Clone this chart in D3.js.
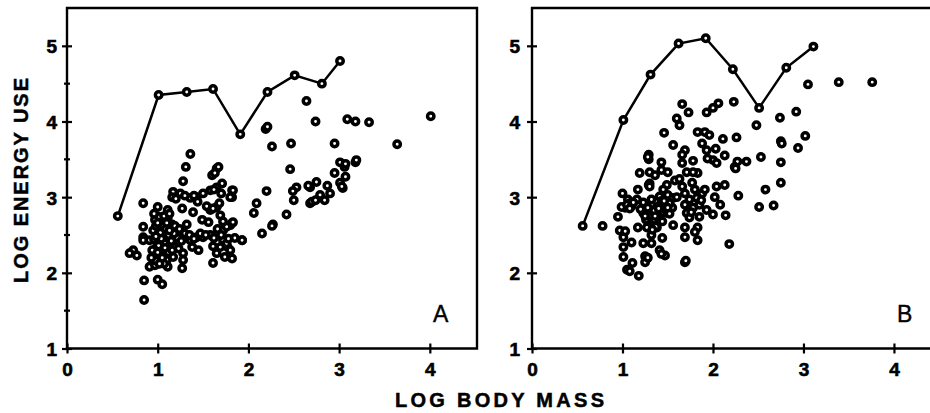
<!DOCTYPE html>
<html><head><meta charset="utf-8">
<script src="https://cdn.jsdelivr.net/npm/d3@7"></script>
<style>
html,body{margin:0;padding:0;background:#fff;}
svg{display:block;}
text{font-family:"Liberation Sans",Arial,Helvetica,sans-serif;fill:#000;}
</style></head>
<body>
<svg id="chart" width="930" height="413"></svg>
<script>
// ---------- DATA ----------
const xTicks = [0, 1, 2, 3, 4];
const yTicks = [1, 2, 3, 4, 5];
const yHalfTicksA = [1.5, 2.5, 3.5, 4.5];
const xAxisTitle = "LOG BODY MASS";
const yAxisTitle = "LOG ENERGY USE";
const panelNames = ["A", "B"];

// upper envelope lines
const lineAx = [0.56, 1.01, 1.32, 1.61, 1.91, 2.21, 2.51, 2.81, 3.01];
const lineAy = [2.75, 4.35, 4.39, 4.43, 3.83, 4.39, 4.61, 4.50, 4.80];
const lineBx = [0.56, 1.01, 1.31, 1.62, 1.92, 2.22, 2.51, 2.81, 3.11];
const lineBy = [2.62, 4.02, 4.62, 5.03, 5.10, 4.69, 4.18, 4.71, 4.99];

// scatter A
const scatterA = [
 [2.64,4.27],[2.74,4.00],[3.09,4.03],[3.18,4.00],[3.33,3.99],[4.01,4.07],[3.64,3.70],[2.95,3.71],
 [2.47,3.71],[2.19,3.90],[2.21,3.93],[2.26,3.67],[2.46,3.37],[3.01,3.46],[3.18,3.46],[3.19,3.49],
 [3.06,3.40],[3.07,3.44],[2.95,3.32],[3.07,3.27],[3.01,3.19],[3.04,3.12],[3.03,3.14],[2.75,3.20],
 [2.87,3.15],[2.53,3.13],[2.49,3.08],[2.68,3.13],[2.66,3.15],[2.50,2.96],[2.68,2.92],[2.70,2.94],
 [2.79,3.03],[2.84,2.96],[2.90,3.05],[2.74,2.96],[2.42,2.77],[2.20,3.08],[2.09,2.92],[2.06,2.79],
 [2.27,2.64],[2.26,2.62],[2.15,2.52],[1.93,2.43],[1.82,3.09],[1.82,3.00],[1.82,2.66],
 [1.36,3.57],[1.31,3.40],[1.28,3.21],[1.65,3.38],[1.67,3.40],[1.60,3.29],[1.71,3.18],[1.65,3.13],
 [1.83,3.09],[1.80,3.00],[1.17,3.07],[1.25,3.05],[1.16,3.00],[1.36,2.99],[1.43,3.00],[1.50,3.05],
 [1.58,3.09],[1.27,2.85],[1.39,2.80],[1.49,2.70],[1.58,2.83],[1.65,2.87],[1.69,2.76],[1.56,2.67],
 [0.84,2.92],[1.00,2.87],[1.11,2.83],[1.11,2.72],[0.97,2.70],[0.84,2.61],[0.84,2.47],[0.84,2.43],
 [0.73,2.30],[0.77,2.23],[0.69,2.26],[0.95,2.56],[1.02,2.61],[1.10,2.52],[1.17,2.47],[1.02,2.43],
 [0.99,2.34],[1.06,2.30],[1.14,2.34],[1.21,2.40],[1.25,2.52],[1.32,2.47],[1.43,2.47],[1.50,2.47],
 [1.58,2.50],[1.65,2.50],[1.72,2.56],[1.80,2.63],[1.83,2.67],[1.93,2.43],[1.85,2.46],[1.77,2.34],
 [1.72,2.43],[1.69,2.34],[1.65,2.26],[1.74,2.21],[1.82,2.19],[1.61,2.13],[1.38,2.34],[1.28,2.26],
 [1.28,2.17],[1.27,2.06],[1.11,2.08],[0.95,2.13],[0.91,2.08],[0.99,2.21],[0.85,1.90],[1.00,1.91],
 [1.05,1.85],[0.85,1.64],[1.06,2.47],[0.91,2.43],[1.02,2.74],[1.08,2.68],[1.16,2.64],[1.19,2.56],
 [1.22,2.46],[0.94,2.30],[1.02,2.21],[1.10,2.17],[1.17,2.21],[1.36,2.43],[1.47,2.52],[1.32,2.64],
 [1.00,2.50],[1.04,2.38],[1.08,2.40],[1.12,2.27],[1.05,2.55],[0.98,2.62],[1.14,2.60],[1.20,2.35],
 [0.96,2.44],[1.00,2.27],[1.07,2.12],[0.97,2.10],[1.13,2.44],[1.54,2.88],[1.61,2.85],[1.44,2.94],
 [1.63,3.32],[1.70,3.05],[1.68,2.92],[1.61,2.35],[1.76,2.39],[1.76,2.61],
 [1.03,2.53],[1.06,2.62],[1.09,2.58],[1.12,2.50],[1.15,2.42],[1.18,2.52],[1.04,2.45],[1.08,2.33],
 [1.01,2.36],[0.98,2.48],[1.10,2.66],[1.13,2.56],[1.05,2.20],[0.98,2.16],[1.02,2.12],[0.93,2.20],
 [1.16,2.30],[1.23,2.32],[1.26,2.42],[1.07,2.75],[1.13,2.78],[0.96,2.78],[1.00,2.66],[1.19,2.62],
 [1.24,2.58],[1.30,2.52],[1.35,2.50],[1.40,2.45],[1.45,2.30],[1.53,2.50],[1.62,2.46],[1.70,2.50],
 [1.66,2.58],[1.72,2.68],[1.78,2.45],[1.80,2.30],[1.20,2.98],[1.30,3.02],[1.40,3.02],[1.62,3.10]
];

// scatter B
const scatterB = [
 [0.78,2.62],[3.05,4.49],[3.39,4.52],[3.76,4.52],[2.92,4.13],[2.74,4.05],[2.48,3.95],[3.02,3.81],
 [2.75,3.74],[2.76,3.71],[2.94,3.65],[2.75,3.46],[2.53,3.53],[2.75,3.19],[2.58,3.10],[2.51,2.87],
 [2.67,2.89],[2.18,2.38],
 [1.66,4.23],[1.73,4.12],[1.93,4.12],[2.00,4.18],[2.06,4.24],[2.23,4.26],[1.60,4.04],[1.63,3.95],
 [1.46,3.85],[1.83,3.86],[1.91,3.86],[1.96,3.82],[2.26,3.79],[2.11,3.77],[1.56,3.69],[1.88,3.71],
 [1.93,3.62],[2.03,3.64],[2.00,3.49],[1.94,3.51],[2.13,3.55],[2.04,3.45],[1.69,3.62],[1.66,3.56],
 [1.66,3.45],[1.78,3.48],[1.83,3.32],[2.27,3.47],[2.24,3.40],[2.25,3.38],[2.37,3.47],[1.29,3.56],[1.29,3.50],
 [1.43,3.46],[1.19,3.32],[1.30,3.33],[1.36,3.29],[1.43,3.36],[1.50,3.33],[1.58,3.22],[1.63,3.24],
 [1.71,3.33],[1.78,3.33],[1.77,3.19],[1.66,3.14],[1.49,3.16],[1.45,3.10],[1.29,3.16],[1.30,3.18],
 [1.17,3.10],[1.16,2.97],[1.00,3.05],[1.06,2.97],[1.03,2.86],[0.99,2.87],[0.95,2.74],[1.08,2.92],
 [1.23,2.93],[1.32,2.97],[1.41,3.01],[1.50,3.03],[1.56,2.99],[1.47,2.90],[1.38,2.87],[1.28,2.86],
 [1.23,2.79],[1.30,2.74],[1.39,2.76],[1.49,2.79],[1.55,2.86],[1.69,3.05],[1.80,3.10],[1.74,2.97],
 [1.82,2.99],[1.88,3.05],[1.91,3.10],[1.69,2.90],[1.78,2.86],[1.85,2.90],[1.93,2.83],[2.04,3.14],
 [2.13,3.16],[2.02,3.00],[2.08,2.90],[2.00,2.77],[2.14,2.76],[2.28,3.02],[1.71,2.79],[1.74,2.73],
 [1.85,2.74],[1.17,2.60],[1.27,2.60],[1.38,2.60],[1.56,2.63],[1.69,2.60],[1.83,2.60],[1.69,2.47],
 [1.80,2.54],[1.83,2.43],[0.97,2.56],[1.01,2.47],[1.01,2.34],[1.01,2.21],[1.10,2.40],[1.23,2.39],
 [1.32,2.39],[1.41,2.30],[1.47,2.23],[1.27,2.19],[1.25,2.14],[1.11,2.13],[1.05,2.04],[1.08,2.02],
 [1.18,1.96],[1.69,2.14],[1.70,2.16],[1.34,2.66],[1.37,2.61],[1.41,2.70],[1.32,2.50],[1.26,2.70],
 [1.35,2.82],[1.45,2.80],[1.43,2.95],[1.52,2.92],[1.48,2.83],[1.33,2.57],[1.44,2.46],[1.03,2.55],
 [1.05,2.90],[1.10,2.88],[1.60,3.00],[1.76,2.80],[1.87,2.96],
 [1.28,3.53],[1.30,3.14],[1.12,2.93],[1.08,2.85],[1.25,2.75],[1.35,2.70],[1.40,2.85],[1.46,2.95],
 [1.50,2.86],[1.52,2.78],[1.44,2.68],[1.36,2.75],[1.25,2.22],[1.28,2.20],[1.43,2.25],[1.20,2.84]
];

// ---------- DRAW ----------
const svg = d3.select("#chart");
const yTop = 8, yBot = 348.5;

const panels = [
  {name: panelNames[0], x0: 67, x1: 477, lx: lineAx, ly: lineAy, pts: scatterA, half: yHalfTicksA, labelX: 433, yLabOff: 10},
  {name: panelNames[1], x0: 532, x1: 941, lx: lineBx, ly: lineBy, pts: scatterB, half: [], labelX: 897, yLabOff: 12}
];

const R = 3.2, SW = 3.5;
const FONT = "'Liberation Sans',Arial,sans-serif";

panels.forEach(p => {
  const x = d3.scaleLinear().domain([0, 4.52]).range([p.x0, p.x1]);
  const y = d3.scaleLinear().domain([1, 5.5]).range([yBot, yTop]);
  const g = svg.append("g");

  // frame
  g.append("path")
    .attr("d", `M${p.x0},${yBot}V${yTop}H${p.x1}V${yBot}Z`)
    .attr("fill", "none").attr("stroke", "#000").attr("stroke-width", 2.4);

  // x axis
  const xa = g.append("g").attr("transform", `translate(0,${yBot})`)
    .call(d3.axisBottom(x).tickValues(xTicks).tickFormat(d3.format("d")).tickSize(0).tickPadding(0));
  xa.select(".domain").remove();
  xa.selectAll(".tick line").attr("y1", -5).attr("y2", 5).attr("stroke", "#000").attr("stroke-width", 2.2);
  xa.selectAll(".tick text").attr("y", 27).attr("dy", null)
    .attr("font-size", 19).attr("font-weight", "bold").attr("font-family", FONT)
    .style("stroke", "#000").style("stroke-width", 0.6);

  // y axis
  const ya = g.append("g").attr("transform", `translate(${p.x0},0)`)
    .call(d3.axisLeft(y).tickValues(yTicks).tickFormat(d3.format("d")).tickSize(0).tickPadding(p.yLabOff));
  ya.select(".domain").remove();
  ya.selectAll(".tick line").attr("x1", -5).attr("x2", 5).attr("stroke", "#000").attr("stroke-width", 2.2);
  ya.selectAll(".tick text").attr("dy", "0.36em")
    .attr("font-size", 19).attr("font-weight", "bold").attr("font-family", FONT)
    .style("stroke", "#000").style("stroke-width", 0.6);

  g.selectAll("line.half").data(p.half).join("line").attr("class", "half")
    .attr("x1", p.x0 - 3).attr("x2", p.x0 + 3)
    .attr("y1", d => y(d)).attr("y2", d => y(d))
    .attr("stroke", "#000").attr("stroke-width", 2.2);

  // scatter
  g.selectAll("circle.pt").data(p.pts).join("circle").attr("class", "pt")
    .attr("cx", d => x(d[0])).attr("cy", d => y(d[1])).attr("r", R)
    .attr("fill", "#fff").attr("stroke", "#000").attr("stroke-width", SW);

  // envelope line
  const lineData = p.lx.map((v, i) => [v, p.ly[i]]);
  g.append("path").datum(lineData)
    .attr("d", d3.line().x(d => x(d[0])).y(d => y(d[1])))
    .attr("fill", "none").attr("stroke", "#000").attr("stroke-width", 2.5);
  g.selectAll("circle.lp").data(lineData).join("circle").attr("class", "lp")
    .attr("cx", d => x(d[0])).attr("cy", d => y(d[1])).attr("r", R)
    .attr("fill", "#fff").attr("stroke", "#000").attr("stroke-width", SW);

  // panel letter
  g.append("text").attr("x", p.labelX).attr("y", 322)
    .style("font-size", "23px").style("stroke", "#000").style("stroke-width", 0.4).text(p.name);
});

// axis titles
svg.append("text").attr("x", 395).attr("y", 407)
  .attr("textLength", 209).attr("lengthAdjust", "spacing")
  .style("font-size", "20px").style("font-weight", "bold")
  .style("stroke", "#000").style("stroke-width", 0.5).text(xAxisTitle);

svg.append("text").attr("transform", "translate(28,283) rotate(-90)")
  .attr("x", 0).attr("y", 0)
  .attr("textLength", 205).attr("lengthAdjust", "spacing")
  .style("font-size", "20px").style("font-weight", "bold")
  .style("stroke", "#000").style("stroke-width", 0.5).text(yAxisTitle);
</script>
</body></html>
